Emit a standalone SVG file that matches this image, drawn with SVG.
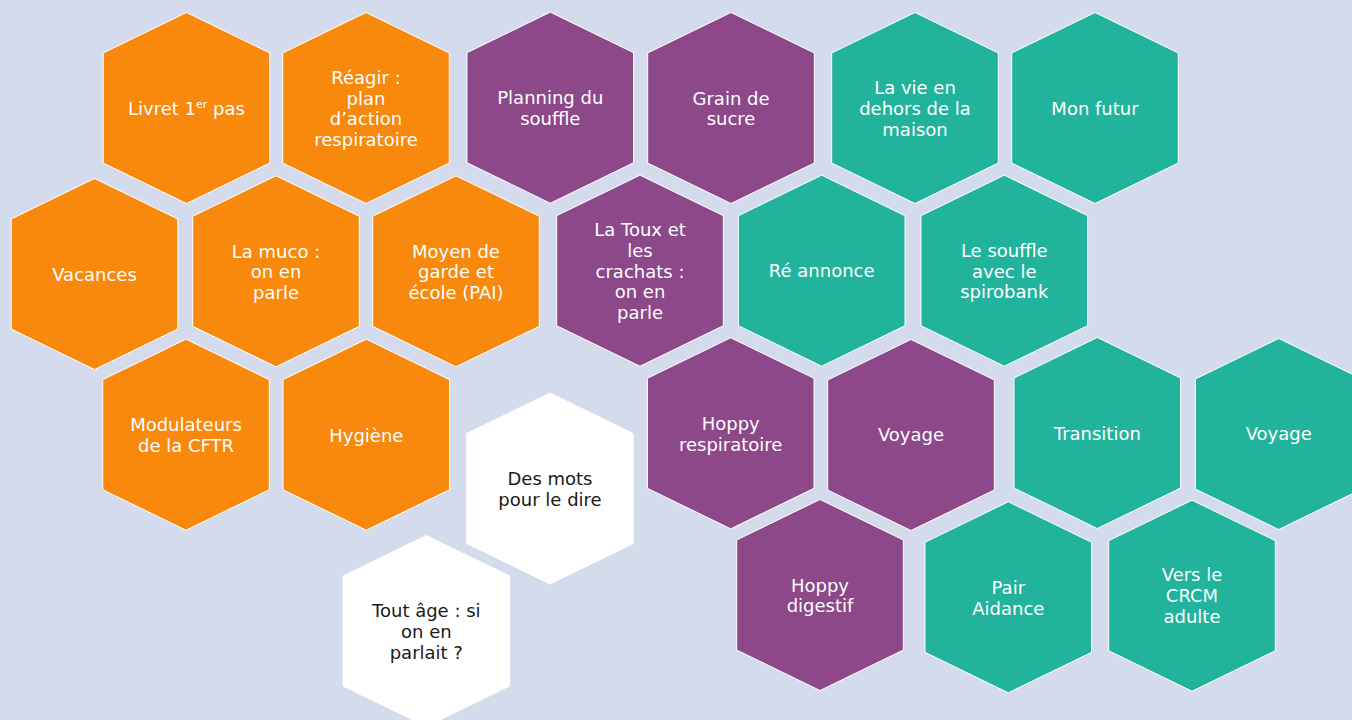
<svg xmlns="http://www.w3.org/2000/svg" xmlns:xlink="http://www.w3.org/1999/xlink" width="1352" height="720" viewBox="0 0 1352 720">
  <defs>
    <path id="hex" d="M0,-95.5 L83.3,-55 L83.3,55 L0,95.5 L-83.3,55 L-83.3,-55 Z"/>
    <style>
      .orange { fill: #F8890C; stroke: #FFFFFF; stroke-width: 1; }
      .purple { fill: #8D488A; stroke: #FFFFFF; stroke-width: 1; }
      .teal { fill: #22B39C; stroke: #FFFFFF; stroke-width: 1; }
      .white { fill: #FFFFFF; stroke: #FFFFFF; stroke-width: 1; }
      text { font-family: "Century Gothic", "DejaVu Sans", "Liberation Sans", sans-serif; font-size: 18px; text-anchor: middle; }
      .lt { fill: #FFFFFF; }
      .dk { fill: #1A1A1A; }
    </style>
  </defs>
  <rect x="0" y="0" width="1352" height="720" fill="#D3DBEC"/>

  <g id="connectors"></g>

  <!-- Orange -->
  <g id="livret" transform="translate(186.5,108)">
    <use xlink:href="#hex" href="#hex" class="orange"/>
    <text class="lt" y="7">Livret 1<tspan font-size="11" dy="-7">er</tspan><tspan dy="7"> pas</tspan></text>
  </g>
  <g id="reagir" transform="translate(366,108)">
    <use xlink:href="#hex" href="#hex" class="orange"/>
    <text class="lt"><tspan x="0" y="-24">Réagir :</tspan><tspan x="0" y="-3.3">plan</tspan><tspan x="0" y="17.4">d’action</tspan><tspan x="0" y="38.1">respiratoire</tspan></text>
  </g>
  <g id="vacances" transform="translate(94.5,274)">
    <use xlink:href="#hex" href="#hex" class="orange"/>
    <text class="lt" y="7">Vacances</text>
  </g>
  <g id="muco" transform="translate(276,271.3)">
    <use xlink:href="#hex" href="#hex" class="orange"/>
    <text class="lt"><tspan x="0" y="-13.7">La muco :</tspan><tspan x="0" y="7">on en</tspan><tspan x="0" y="27.7">parle</tspan></text>
  </g>
  <g id="moyen" transform="translate(456,271.3)">
    <use xlink:href="#hex" href="#hex" class="orange"/>
    <text class="lt"><tspan x="0" y="-13.7">Moyen de</tspan><tspan x="0" y="7">garde et</tspan><tspan x="0" y="27.7">école (PAI)</tspan></text>
  </g>
  <g id="modulateurs" transform="translate(186,434.7)">
    <use xlink:href="#hex" href="#hex" class="orange"/>
    <text class="lt"><tspan x="0" y="-3.4">Modulateurs</tspan><tspan x="0" y="17.3">de la CFTR</tspan></text>
  </g>
  <g id="hygiene" transform="translate(366.3,434.7)">
    <use xlink:href="#hex" href="#hex" class="orange"/>
    <text class="lt" y="7">Hygiène</text>
  </g>

  <!-- Purple -->
  <g id="planning" transform="translate(550.3,107.7)">
    <use xlink:href="#hex" href="#hex" class="purple"/>
    <text class="lt"><tspan x="0" y="-3.4">Planning du</tspan><tspan x="0" y="17.3">souffle</tspan></text>
  </g>
  <g id="grain" transform="translate(731,108)">
    <use xlink:href="#hex" href="#hex" class="purple"/>
    <text class="lt"><tspan x="0" y="-3.4">Grain de</tspan><tspan x="0" y="17.3">sucre</tspan></text>
  </g>
  <g id="toux" transform="translate(640,270.7)">
    <use xlink:href="#hex" href="#hex" class="purple"/>
    <text class="lt"><tspan x="0" y="-34.4">La Toux et</tspan><tspan x="0" y="-13.7">les</tspan><tspan x="0" y="7">crachats :</tspan><tspan x="0" y="27.7">on en</tspan><tspan x="0" y="48.4">parle</tspan></text>
  </g>
  <g id="hoppy-resp" transform="translate(730.7,433.3)">
    <use xlink:href="#hex" href="#hex" class="purple"/>
    <text class="lt"><tspan x="0" y="-3.4">Hoppy</tspan><tspan x="0" y="17.3">respiratoire</tspan></text>
  </g>
  <g id="voyage1" transform="translate(911,435)">
    <use xlink:href="#hex" href="#hex" class="purple"/>
    <text class="lt" y="6">Voyage</text>
  </g>
  <g id="hoppy-dig" transform="translate(820,595)">
    <use xlink:href="#hex" href="#hex" class="purple"/>
    <text class="lt"><tspan x="0" y="-3.4">Hoppy</tspan><tspan x="0" y="17.3">digestif</tspan></text>
  </g>

  <!-- Teal -->
  <g id="lavie" transform="translate(915,108)">
    <use xlink:href="#hex" href="#hex" class="teal"/>
    <text class="lt"><tspan x="0" y="-13.7">La vie en</tspan><tspan x="0" y="7">dehors de la</tspan><tspan x="0" y="27.7">maison</tspan></text>
  </g>
  <g id="monfutur" transform="translate(1095,108)">
    <use xlink:href="#hex" href="#hex" class="teal"/>
    <text class="lt" y="7">Mon futur</text>
  </g>
  <g id="reannonce" transform="translate(821.7,270.7)">
    <use xlink:href="#hex" href="#hex" class="teal"/>
    <text class="lt" y="6.5">Ré annonce</text>
  </g>
  <g id="souffle" transform="translate(1004.3,270.7)">
    <use xlink:href="#hex" href="#hex" class="teal"/>
    <text class="lt"><tspan x="0" y="-13.7">Le souffle</tspan><tspan x="0" y="7">avec le</tspan><tspan x="0" y="27.7">spirobank</tspan></text>
  </g>
  <g id="transition" transform="translate(1097.3,433)">
    <use xlink:href="#hex" href="#hex" class="teal"/>
    <text class="lt" y="7">Transition</text>
  </g>
  <g id="voyage2" transform="translate(1278.7,434)">
    <use xlink:href="#hex" href="#hex" class="teal"/>
    <text class="lt" y="6">Voyage</text>
  </g>
  <g id="pair" transform="translate(1008.3,597.3)">
    <use xlink:href="#hex" href="#hex" class="teal"/>
    <text class="lt"><tspan x="0" y="-3.4">Pair</tspan><tspan x="0" y="17.3">Aidance</tspan></text>
  </g>
  <g id="crcm" transform="translate(1192,595.7)">
    <use xlink:href="#hex" href="#hex" class="teal"/>
    <text class="lt"><tspan x="0" y="-14.5">Vers le</tspan><tspan x="0" y="6.2">CRCM</tspan><tspan x="0" y="26.9">adulte</tspan></text>
  </g>

  <!-- White -->
  <g id="desmots" transform="translate(550,488.5)">
    <use xlink:href="#hex" href="#hex" class="white"/>
    <text class="dk"><tspan x="0" y="-3.4">Des mots</tspan><tspan x="0" y="17.3">pour le dire</tspan></text>
  </g>
  <g id="toutage" transform="translate(426.3,631)">
    <use xlink:href="#hex" href="#hex" class="white"/>
    <text class="dk"><tspan x="0" y="-13.7">Tout âge : si</tspan><tspan x="0" y="7">on en</tspan><tspan x="0" y="27.7">parlait ?</tspan></text>
  </g>
</svg>
